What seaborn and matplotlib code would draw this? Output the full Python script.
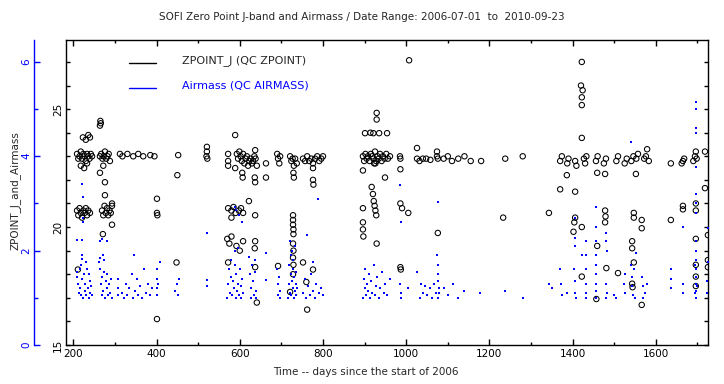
import matplotlib
matplotlib.use('Agg')
import matplotlib.pyplot as plt
from matplotlib.lines import Line2D
from matplotlib.ticker import MultipleLocator
import seaborn as sns

# ZPOINT_J values (black open circles): day since start of 2006, zero point
zp_day = [209, 212, 215, 218, 221, 224, 227, 230, 233, 236, 239, 242, 245,
          223, 230, 236, 240, 218, 226, 233,
          209, 212, 215, 218, 221, 224, 227, 230, 233, 236, 240, 211,
          264, 267, 270, 273, 276, 279, 282, 285, 288, 264, 265, 266,
          264, 276, 272, 269, 272, 275, 278, 281, 284, 287, 290, 293,
          276, 271, 293, 293,
          312, 318, 330, 344, 356, 368, 385, 395, 401, 401, 402, 401,
          452, 450, 448,
          521, 521, 522, 520,
          572, 572, 572, 589, 593, 596, 599, 602, 605, 608, 611, 614, 617, 620,
          623, 626, 629, 632, 635, 638, 641, 637,
          589, 606, 607, 636, 637, 622,
          572, 580, 585, 590, 598, 603, 608, 580, 637,
          570, 575, 580, 592, 600, 608, 636, 637, 572, 637, 641,
          663, 663, 690, 692, 695, 697, 692,
          721, 724, 727, 730, 733, 737, 729, 730,
          728, 728, 728, 729, 729, 728, 729, 728, 729, 728, 721,
          752, 757, 762, 767, 772, 776, 781, 786, 791, 796, 800, 776, 776, 777,
          752, 776, 762, 760,
          929, 929, 901, 914, 921, 935, 954,
          896, 899, 902, 905, 908, 912, 915, 918, 921, 925, 928, 931, 934, 937,
          941, 944, 948, 952, 956, 961, 923, 926, 896, 949,
          917, 920, 922, 924, 926, 928, 896, 896, 896, 897, 929,
          985, 986, 986, 986, 990, 1005, 986, 987, 1007,
          1026, 1026, 1032, 1040, 1048, 1058, 1074, 1074, 1076, 1076,
          1090, 1100, 1110, 1125, 1140, 1155, 1180, 1238, 1280, 1233, 1343,
          1370, 1374, 1387, 1390, 1406, 1409, 1427, 1430, 1433, 1456, 1460, 1475,
          1480, 1505, 1509, 1525, 1530, 1541, 1546, 1553, 1557, 1572, 1576, 1579,
          1583, 1422, 1420, 1424, 1422, 1422, 1422,
          1386, 1370, 1406, 1406, 1404, 1422, 1402,
          1459, 1478, 1479, 1478, 1422, 1457, 1481, 1509, 1459, 1478, 1552,
          1543, 1543, 1543, 1544, 1547, 1547, 1566, 1566, 1566, 1547,
          1636, 1665, 1668, 1662, 1690, 1694, 1696, 1698, 1718,
          1636, 1665, 1665, 1696, 1696, 1696, 1718, 1725, 1725, 1725,
          1696, 1696, 1696]
zp_val = [23.1, 22.9, 23.0, 23.2, 22.9, 23.1, 23.0, 22.8, 23.1, 23.0, 22.9, 23.1, 23.0,
          23.8, 23.7, 23.9, 23.8, 22.6, 22.5, 22.7,
          20.7, 20.5, 20.8, 20.6, 20.4, 20.7, 20.6, 20.8, 20.5, 20.7, 20.6, 18.2,
          23.0, 23.1, 22.9, 23.0, 23.2, 22.9, 23.0, 23.1, 22.8, 24.3, 24.5, 24.4,
          22.3, 21.9, 22.6, 20.7, 20.5, 20.9, 20.6, 20.8, 20.5, 20.7, 20.6, 20.9,
          21.35, 19.7, 20.1, 21.0,
          23.1, 23.0, 23.1, 23.0, 23.1, 23.0, 23.05, 23.0, 21.2, 20.6, 20.5, 16.1,
          23.05, 22.2, 18.5,
          23.4, 23.2, 22.9, 23.0,
          23.1, 22.8, 22.6, 23.9, 23.1, 22.9, 23.2, 23.0, 22.8, 23.1, 22.7, 22.9, 23.0, 22.6,
          22.8, 22.9, 22.7, 22.8, 23.0, 22.9, 22.6, 23.26,
          22.5, 22.3, 22.1, 22.1, 21.9, 21.1,
          20.8, 20.7, 20.85, 20.6, 20.7, 20.8, 20.6, 20.4, 20.5,
          19.5, 19.3, 19.6, 19.2, 19.0, 19.4, 19.1, 19.4, 18.5, 18.3, 16.8,
          22.7, 22.1, 23.1, 22.9, 22.7, 23.0, 18.35,
          23.0, 22.8, 22.9, 22.6, 22.9, 22.7, 22.3, 22.1,
          20.5, 20.3, 20.1, 19.9, 19.7, 19.3, 19.0, 18.7, 18.4, 18.0, 17.25,
          22.9, 22.8, 23.0, 22.8, 22.9, 22.7, 22.9, 23.0, 22.8, 22.9, 23.0, 22.5, 22.0, 21.8,
          18.5, 18.2, 16.5, 17.67,
          24.84, 24.56, 23.98, 24.0, 23.98, 23.98, 23.98,
          23.0, 22.8, 23.1, 22.9, 23.0, 22.8, 23.1, 23.0, 22.9, 23.2, 22.8, 23.0, 22.9, 23.1,
          22.8, 23.0, 22.9, 23.1, 22.9, 23.0, 22.7, 22.7, 22.4, 22.1,
          21.7, 21.4, 21.1, 20.9, 20.7, 20.5, 20.8, 20.2, 19.9, 19.6, 19.3,
          23.0, 22.9, 22.45, 21.0, 20.8, 20.6, 18.3, 18.2, 27.07,
          23.35, 22.9, 22.8, 22.9, 22.9, 22.85, 23.0, 23.2, 22.9, 19.75,
          22.9, 23.0, 22.8, 22.9, 23.0, 22.8, 22.8, 22.9, 23.0, 20.4, 20.6,
          22.8, 23.0, 22.7, 22.9, 22.8, 22.6, 22.9, 22.7, 23.0, 22.8, 23.0, 22.7,
          22.9, 22.8, 23.0, 22.7, 22.9, 22.8, 23.0, 22.9, 23.1, 22.9, 23.0, 23.3,
          22.8, 27.0, 26.0, 25.8, 25.5, 25.17, 23.78,
          22.2, 21.6, 21.5, 20.4, 20.2, 20.0, 19.8,
          19.2, 20.7, 20.45, 20.2, 17.9, 16.95, 18.26, 18.05, 22.3, 22.25, 22.25,
          19.4, 19.1, 17.6, 17.45, 20.6, 20.4, 20.3, 19.95, 16.7, 18.5,
          22.7, 22.8, 22.9, 22.7, 22.8, 23.0, 23.2, 22.9, 23.2,
          20.3, 20.9, 20.75, 21.0, 20.7, 19.5, 21.65, 19.66, 18.6, 18.3,
          18.4, 17.9, 17.5]

# Airmass values (blue filled squares)
am_day = [221, 224, 224, 223, 209, 221, 221, 222,
          208, 209, 211, 213, 215, 217, 219, 221, 223, 225, 227, 229, 231, 233, 235,
          237, 239, 241, 243, 245, 218, 230, 238,
          264, 270, 280, 271, 273, 262, 263,
          264, 266, 268, 270, 272, 274, 276, 278, 280, 282, 284, 286, 288, 290, 292,
          307, 307, 308,
          318, 322, 327, 330, 335, 340, 343, 348, 352, 356, 360, 365, 370, 374, 380,
          385, 390, 345, 400, 401, 401, 402, 403, 408, 445, 450, 452, 455,
          521, 521, 521,
          589, 592, 598, 605, 589, 596,
          570, 572, 574, 576, 578, 580, 582, 584, 586, 588, 590, 592, 594, 596, 598,
          600, 602, 604, 606, 608,
          622, 624, 626, 628, 630, 632, 634, 636, 638, 640, 636, 663, 663,
          690, 691, 692, 694, 696, 697,
          717, 718, 719, 720, 721, 722, 723, 724, 725, 726, 727, 728, 729, 730, 731,
          732, 733, 734, 735, 736, 737,
          752, 756, 760, 762, 764, 768, 772, 776, 776, 780, 784, 789, 790, 795, 800,
          896, 898, 900, 902, 904, 906, 908, 910, 913, 916, 919, 922, 925, 928, 931,
          934, 938, 942, 946, 950, 955, 960,
          986, 987, 986, 987, 988, 1005,
          1026, 1032, 1036, 1040, 1045, 1050, 1056, 1062, 1068, 1072, 1076, 1075, 1076,
          1077, 1076, 1078, 1076, 1080,
          1090, 1100, 1112, 1125, 1140, 1178, 1238, 1280, 1343, 1350,
          1370, 1372, 1375, 1386, 1406, 1406, 1406, 1404, 1405, 1406, 1407, 1422,
          1432, 1432, 1433, 1432, 1433, 1432,
          1457, 1455, 1455, 1456, 1455, 1456, 1455, 1456, 1455,
          1481, 1481, 1482, 1481, 1482, 1481,
          1499, 1503, 1525, 1524, 1526, 1541, 1540, 1542, 1543, 1545, 1548, 1550, 1552,
          1566, 1568, 1570, 1575, 1578,
          1636, 1636, 1637, 1665, 1665, 1666,
          1697, 1697, 1697, 1697, 1697, 1697, 1697, 1697, 1697, 1697, 1697, 1697, 1697,
          1697, 1697, 1697, 1695, 1699, 1694,
          1725, 1725, 1722, 1722]
am_val = [3.41, 3.14, 2.7, 2.6, 2.22, 2.22, 1.82, 1.9,
          1.55, 1.45, 1.3, 1.1, 1.6, 1.2, 1.05, 1.4, 1.0, 1.5, 1.15, 1.3, 1.05, 1.6, 1.2,
          1.0, 1.35, 1.1, 1.25, 1.05, 1.7, 1.75, 1.5,
          2.2, 2.25, 2.2, 1.9, 1.8, 1.75, 1.85,
          1.6, 1.3, 1.05, 1.45, 1.15, 1.55, 1.0, 1.35, 1.2, 1.5, 1.05, 1.3, 1.1, 1.4, 1.0,
          1.4, 1.2, 1.05,
          1.1, 1.0, 1.3, 1.05, 1.2, 1.5, 1.0, 1.15, 1.4, 1.05, 1.25, 1.0, 1.6, 1.1, 1.3,
          1.05, 1.2, 1.9, 1.6, 1.4, 1.2, 1.05, 1.3, 1.76, 1.15, 1.3, 1.05, 1.4,
          2.37, 1.38, 1.25,
          2.92, 2.85, 2.75, 2.6, 2.0, 2.05,
          1.0, 1.3, 1.6, 1.1, 1.45, 1.8, 1.05, 1.35, 1.2, 1.7, 1.0, 1.5, 1.15, 1.3, 1.05,
          1.6, 1.25, 1.0, 1.4, 1.1,
          1.86, 1.5, 1.2, 1.0, 1.7, 1.35, 1.05, 1.55, 1.15, 1.0, 1.8, 1.95, 1.38,
          1.6, 1.3, 1.05, 1.45, 1.15, 1.0,
          1.0, 1.3, 1.7, 2.2, 1.1, 1.5, 1.9, 1.05, 2.0, 1.35, 1.6, 1.2, 1.8, 1.0, 1.45,
          1.15, 2.1, 1.3, 1.05, 1.55, 1.2,
          1.1, 1.4, 1.0, 2.33, 1.25, 1.05, 1.5, 1.76, 1.15, 1.0, 1.3, 3.09, 1.1, 1.2, 1.05,
          1.0, 1.4, 1.2, 1.6, 1.05, 1.3, 1.15, 1.5, 1.0, 1.35, 1.1, 1.7, 1.05, 1.25, 1.45,
          1.0, 1.2, 1.55, 1.1, 1.3, 1.05, 1.4,
          3.39, 2.6, 1.3, 1.1, 1.0, 1.2,
          1.55, 1.0, 1.3, 1.1, 1.25, 1.05, 1.2, 1.0, 1.3, 1.1, 3.03, 1.9, 1.7,
          1.5, 1.35, 1.2, 1.0, 1.1,
          1.2, 1.05, 1.3, 1.0, 1.15, 1.1, 1.15, 1.0, 1.3, 1.2,
          1.6, 1.3, 1.05, 1.1, 2.69, 2.27, 2.1, 1.6, 1.35, 1.1, 1.0, 1.9,
          2.2, 1.9, 1.6, 1.3, 1.1, 1.0,
          2.92, 2.5, 2.2, 1.9, 1.7, 1.5, 1.3, 1.15, 1.0,
          2.37, 2.2, 2.0, 1.3, 1.1, 1.0,
          1.05, 1.0, 1.5, 1.3, 1.1, 4.3, 1.7, 1.45, 1.25, 1.05, 1.6, 1.0, 1.95,
          1.45, 1.25, 1.0, 1.1, 1.3,
          1.6, 1.4, 1.2, 2.5, 1.3, 1.1,
          5.15, 5.0, 4.6, 4.5, 3.77, 3.2, 3.0, 2.8, 2.2, 2.0, 1.8, 1.6, 1.45,
          1.3, 1.15, 1.0, 1.7, 1.25, 1.1,
          2.47, 1.75, 1.35, 1.1]

sns.set_style('white')
plt.rcParams['font.family'] = ['DejaVu Sans']
plt.rcParams['font.size'] = 7.5

W, H = 724, 384
fig = plt.figure(figsize=(W / 100, H / 100), dpi=100)
ax = fig.add_axes([65.7 / W, 1 - 345 / H, (708.3 - 65.7) / W, 305 / H])
ax2 = ax.twinx()

sns.scatterplot(x=zp_day, y=zp_val, ax=ax, marker='o', s=15, facecolor='none',
                edgecolor='black', linewidth=0.75)
sns.scatterplot(x=am_day, y=am_val, ax=ax2, marker='s', s=4.5, color='#0000ff',
                linewidth=0)

ax.set_xlim(181.7, 1726)
ax.set_ylim(15, 27.93)
ax2.set_ylim(0, 6.46)

for sp in ax.spines.values():
    sp.set_color('black')
    sp.set_linewidth(1)

ax.xaxis.set_major_locator(MultipleLocator(200))
ax.xaxis.set_minor_locator(MultipleLocator(100))
ax.yaxis.set_major_locator(MultipleLocator(5))
ax.yaxis.set_minor_locator(MultipleLocator(1))
ax.tick_params(axis='both', which='both', direction='in', top=True, bottom=True,
               left=True, right=True, labelright=False, labelleft=True,
               colors='black', width=1)
ax.tick_params(axis='x', which='major', length=4, pad=3)
ax.tick_params(axis='x', which='minor', length=2.2)
ax.tick_params(axis='y', which='major', length=3, pad=2, labelrotation=90)
ax.tick_params(axis='y', which='minor', length=3)
for t in ax.get_yticklabels():
    t.set_va('center')

# airmass axis drawn to the left of the frame
ax2.yaxis.tick_left()
ax2.spines['left'].set_position(('outward', 23))
ax2.spines['left'].set_color('#0000ff')
ax2.spines['left'].set_linewidth(1)
for side in ['right', 'top', 'bottom']:
    ax2.spines[side].set_visible(False)
ax2.yaxis.set_major_locator(MultipleLocator(2))
ax2.yaxis.set_minor_locator(MultipleLocator(1))
ax2.tick_params(axis='y', which='both', direction='in', left=True, right=False,
                labelleft=True, labelright=False, colors='#0000ff', width=1)
ax2.tick_params(axis='y', which='major', length=4.3, pad=2, labelrotation=90)
ax2.tick_params(axis='y', which='minor', length=3)
for t in ax2.get_yticklabels():
    t.set_va('center')
ax2.set_ylabel('')
ax.set_ylabel('')
ax.set_xlabel('')

fig.text(362 / W, 1 - 17 / H, 'SOFI Zero Point J-band and Airmass / Date Range: 2006-07-01  to  2010-09-23',
         ha='center', va='center', fontsize=7.5)
fig.text(366 / W, 1 - 372 / H, 'Time -- days since the start of 2006',
         ha='center', va='center', fontsize=7.5)
fig.text(15 / W, 1 - 191 / H, 'ZPOINT_J_and_Airmass', rotation=90,
         ha='center', va='center', fontsize=7.5)

# legend
fig.add_artist(Line2D([129 / W, 156 / W], [1 - 63.3 / H] * 2, color='black', lw=1))
fig.add_artist(Line2D([129 / W, 156 / W], [1 - 88.3 / H] * 2, color='#0000ff', lw=1))
fig.text(182 / W, 1 - 61 / H, 'ZPOINT_J (QC ZPOINT)', va='center', fontsize=8)
fig.text(182 / W, 1 - 85 / H, 'Airmass (QC AIRMASS)', va='center', fontsize=8,
         color='#0000ff')

fig.savefig('out.png', dpi=100)
